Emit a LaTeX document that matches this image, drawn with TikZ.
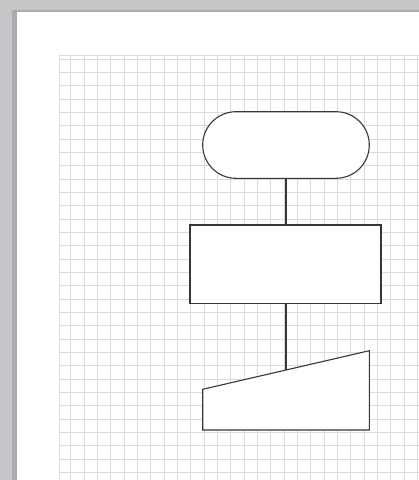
\documentclass[tikz,border=0pt]{standalone}
\usetikzlibrary{shapes.geometric,shapes.misc}
\definecolor{frame}{RGB}{196,198,200}
\definecolor{frameshadow}{RGB}{170,172,175}
\definecolor{gridc}{RGB}{218,218,218}
\definecolor{edge}{RGB}{55,55,55}
\tikzset{
  shapeline/.style={draw=edge, line width=1.1pt, fill=white},
  conn/.style={draw=edge, line width=1.1pt},
  gridline/.style={draw=gridc, line width=0.8pt}
}
\begin{document}
\begin{tikzpicture}[x=1pt,y=-1pt]
\useasboundingbox (0,0) rectangle (419,480);
% frame
\fill[frame] (0,0) rectangle (419,480);
\fill[frameshadow] (12,10) rectangle (419,480);
\fill[white] (17,12) rectangle (419,480);
% grid
\foreach \i in {0,...,26} {
  \pgfmathsetmacro{\xx}{70.7+13.333*\i}
  \draw[gridline] (\xx,55) -- (\xx,480);
}
\foreach \j in {0,...,31} {
  \pgfmathsetmacro{\yy}{59+13.333*\j}
  \draw[gridline] (59.5,\yy) -- (419,\yy);
}
\draw[gridline] (59.5,480) -- (59.5,55) -- (419,55);
% shapes
\node[shapeline, rounded rectangle, minimum width=166.6pt, minimum height=66.6pt, inner sep=0pt] (term) at (286,145) {};
\node[shapeline, rectangle, minimum width=191pt, minimum height=78.5pt, inner sep=0pt] (proc) at (285.5,264.25) {};
\draw[shapeline] (202.7,389.3) coordinate (mil) -- (369.3,350.7) coordinate (mir) -- (369.3,430) coordinate (mbr) -- (202.7,430) coordinate (mbl) -- cycle;
\coordinate (mtop) at (286,370);
\draw[conn] (term.south) -- (term.south |- proc.north);
\draw[conn] (term.south |- proc.south) -- (mtop);
\end{tikzpicture}
\end{document}
